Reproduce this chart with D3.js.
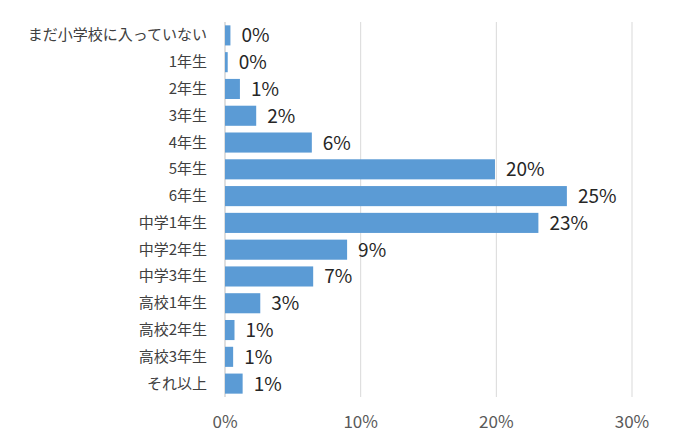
<!DOCTYPE html>
<html><head><meta charset="utf-8">
<script src="https://cdn.jsdelivr.net/npm/d3@7"></script>
<style>body{margin:0;background:#fff}</style>
</head><body>
<svg width="676" height="447"></svg>
<script>
// categories and values (percent)
const categories = ["まだ小学校に入っていない","1年生","2年生","3年生","4年生","5年生","6年生",
  "中学1年生","中学2年生","中学3年生","高校1年生","高校2年生","高校3年生","それ以上"];
const values = [0.4, 0.2, 1.1, 2.3, 6.4, 19.9, 25.2, 23.1, 9.0, 6.5, 2.6, 0.7, 0.6, 1.3];
const ticks = [0, 10, 20, 30];

const svg = d3.select("svg");
const font = "'Meiryo','Noto Sans CJK JP',sans-serif";

const x = d3.scaleLinear().domain([0, 30]).range([225, 632]);
const y = d3.scaleBand().domain(categories).range([22, 397]).paddingInner(0.25).paddingOuter(0.125);

// gridlines
svg.selectAll("line.grid").data(ticks).join("line")
  .attr("x1", d => x(d)).attr("x2", d => x(d))
  .attr("y1", 22).attr("y2", 397)
  .attr("stroke", d => d === 0 ? "#bfbfbf" : "#d9d9d9").attr("stroke-width", 1);

// tick labels
svg.selectAll("text.tick").data(ticks).join("text")
  .attr("x", d => x(d)).attr("y", 428)
  .attr("text-anchor", "middle").attr("font-family", font).attr("font-size", 17)
  .attr("fill", "#595959").text(d => d + "%");

// bars
svg.selectAll("rect").data(values).join("rect")
  .attr("x", x(0)).attr("y", (d, i) => y(categories[i]))
  .attr("width", d => x(d) - x(0)).attr("height", y.bandwidth())
  .attr("fill", "#5b9bd5");

// value labels
svg.selectAll("text.val").data(values).join("text")
  .attr("x", d => x(d) + 11).attr("y", (d, i) => y(categories[i]) + y.bandwidth() / 2 + 7)
  .attr("font-family", font).attr("font-size", 19).attr("fill", "#262626")
  .text(d => Math.round(d) + "%");

// category labels
svg.selectAll("text.cat").data(categories).join("text")
  .attr("x", 207).attr("y", d => y(d) + y.bandwidth() / 2 + 5)
  .attr("text-anchor", "end").attr("font-family", font).attr("font-size", 15)
  .attr("fill", "#404040").text(d => d);
</script>
</body></html>
